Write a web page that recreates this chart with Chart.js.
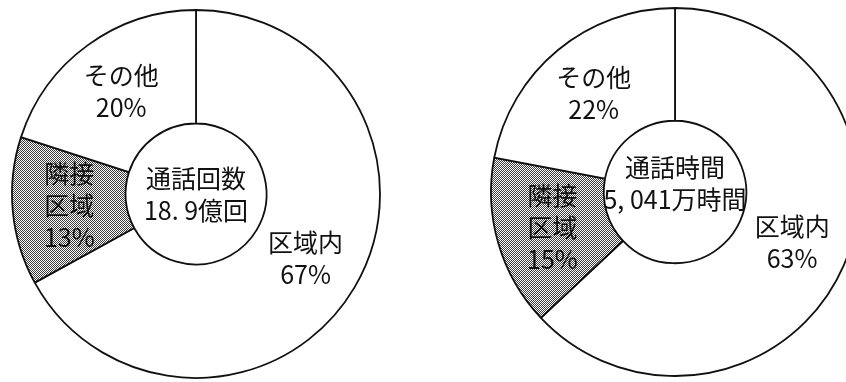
<!DOCTYPE html>
<html lang="ja">
<head>
<meta charset="utf-8">
<title>通話回数・通話時間の構成比</title>
<script src="https://cdn.jsdelivr.net/npm/chart.js@4/dist/chart.umd.min.js"></script>
<style>
  html, body { margin: 0; padding: 0; background: #fff; width: 846px; height: 382px; overflow: hidden; }
  #wrap { position: relative; width: 846px; height: 382px; overflow: hidden; }
  canvas { position: absolute; top: 0; }
  #callsChart { left: 0; }
  #timeChart { left: 475px; }
</style>
</head>
<body>
<div id="wrap">
  <canvas id="callsChart" width="392" height="388"></canvas>
  <canvas id="timeChart" width="400" height="384"></canvas>
</div>
<script>
  // 区分（区域内 / 隣接区域 / その他）
  const categories = ["区域内", "隣接区域", "その他"];
  const categoryLines = [["区域内"], ["隣接", "区域"], ["その他"]];

  // 構成比（%）
  const callShares = [67, 13, 20];
  const timeShares = [63, 15, 22];

  // 中央の表示
  const callCenter = ["通話回数", "18. 9億回"];
  const timeCenter = ["通話時間", "5, 041万時間"];

  const FONT = '"Noto Sans CJK JP", "Noto Sans", sans-serif';

  // 網掛け（隣接区域）用のドットパターン
  function dotPattern() {
    const c = document.createElement("canvas");
    c.width = 2; c.height = 2;
    const g = c.getContext("2d");
    g.fillStyle = "#fff";
    g.fillRect(0, 0, 2, 2);
    g.fillStyle = "#3c3c3c";
    g.fillRect(0, 0, 1, 1);
    g.fillRect(1, 1, 1, 1);
    return g.createPattern(c, "repeat");
  }

  // 各区分の名称と％、中央の見出しを描く
  const labelPlugin = {
    id: "ringLabels",
    afterDatasetsDraw(chart, args, opts) {
      const ctx = chart.ctx;
      const meta = chart.getDatasetMeta(0);
      const data = chart.data.datasets[0].data;
      ctx.save();
      ctx.fillStyle = "#111";
      ctx.textAlign = "center";
      ctx.textBaseline = "middle";
      ctx.font = "25px " + FONT;
      meta.data.forEach((arc, i) => {
        const p = arc.tooltipPosition();
        const lines = categoryLines[i].concat([data[i] + "%"]);
        const lh = 32;
        const y0 = p.y - (lines.length - 1) * lh / 2;
        lines.forEach((t, k) => ctx.fillText(t, p.x, y0 + k * lh));
      });
      const a = meta.data[0];
      ctx.font = "25px " + FONT;
      opts.center.forEach((t, k) => {
        ctx.fillText(t, a.x, a.y + opts.offset + k * 32);
      });
      ctx.restore();
    },
  };

  function makeChart(id, values, center, offset) {
    const hatch = dotPattern();
    return new Chart(document.getElementById(id), {
      type: "doughnut",
      data: {
        labels: categories,
        datasets: [{
          data: values,
          backgroundColor: ["#ffffff", hatch, "#ffffff"],
          borderColor: "#111",
          borderWidth: 1.8,
        }],
      },
      options: {
        responsive: false,
        animation: false,
        radius: 184,
        cutout: 74,
        rotation: 0,
        layout: { padding: 0 },
        plugins: {
          legend: { display: false },
          tooltip: { enabled: false },
          ringLabels: { center: center, offset: offset },
        },
      },
      plugins: [labelPlugin],
    });
  }

  makeChart("callsChart", callShares, callCenter, -16);
  makeChart("timeChart", timeShares, timeCenter, -25);
</script>
</body>
</html>
